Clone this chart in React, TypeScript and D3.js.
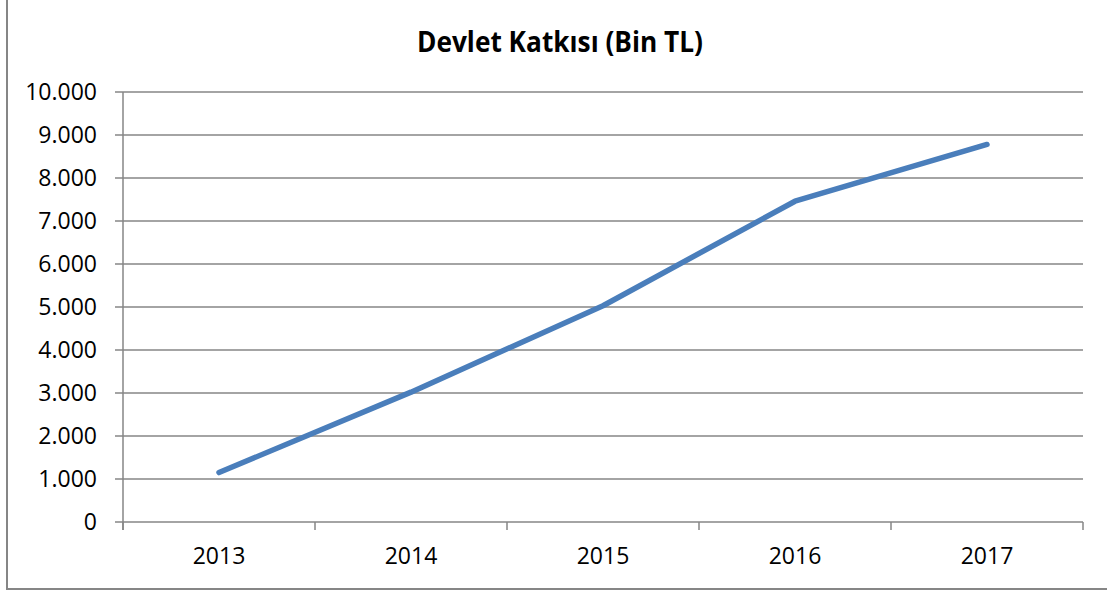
import React, { useEffect, useRef } from "react";
import * as d3 from "d3";

const years = ["2013", "2014", "2015", "2016", "2017"];
const katki = [1150, 3020, 5030, 7460, 8780];
const yTicks = [0, 1000, 2000, 3000, 4000, 5000, 6000, 7000, 8000, 9000, 10000];
const title = "Devlet Katkısı (Bin TL)";

const W = 1107;
const H = 592;

export default function App() {
  const ref = useRef<SVGSVGElement>(null);

  useEffect(() => {
    const svg = d3.select(ref.current);
    svg.selectAll("*").remove();

    var margin = { top: 92, right: 24, bottom: 70, left: 123 };
    var plotRight = W - margin.right;
    var plotBottom = H - margin.bottom;

    const x = d3.scaleBand().domain(years).range([margin.left, plotRight]);
    const y = d3.scaleLinear().domain([0, 10000]).range([plotBottom, margin.top]);
    const fmt = d3.formatLocale({ decimal: ",", thousands: ".", grouping: [3], currency: ["", "TL"] }).format(",d");

    // outer chart frame (only left and bottom show in the shot)
    svg
      .append("rect")
      .attr("x", 7)
      .attr("y", -10)
      .attr("width", W + 20)
      .attr("height", 599)
      .attr("fill", "white")
      .attr("stroke", "#868686")
      .attr("stroke-width", 2);

    svg
      .append("text")
      .attr("x", 560)
      .attr("y", 52)
      .attr("text-anchor", "middle")
      .style("font-family", "'Open Sans', sans-serif")
      .style("font-weight", "bold")
      .style("font-size", "28px")
      .attr("textLength", 286)
      .attr("lengthAdjust", "spacingAndGlyphs")
      .attr("fill", "#000")
      .text(title);

    // gridlines + y ticks
    const g = svg.append("g");
    g.selectAll(".grid")
      .data(yTicks)
      .join("line")
      .attr("class", "grid")
      .attr("x1", margin.left - 8)
      .attr("x2", plotRight)
      .attr("y1", (d) => y(d))
      .attr("y2", (d) => y(d))
      .attr("stroke", "#868686")
      .attr("stroke-width", 1.5);

    g.selectAll(".ylab")
      .data(yTicks)
      .join("text")
      .attr("class", "ylab")
      .attr("x", 97)
      .attr("y", (d) => y(d))
      .attr("dy", "0.36em")
      .attr("text-anchor", "end")
      .style("font-family", "'Open Sans', sans-serif")
      .style("font-size", "23px")
      .attr("fill", "#000")
      .text((d) => fmt(d));

    // y axis line
    g.append("line")
      .attr("x1", margin.left)
      .attr("x2", margin.left)
      .attr("y1", margin.top)
      .attr("y2", plotBottom + 8)
      .attr("stroke", "#868686")
      .attr("stroke-width", 1.5);

    // category boundary ticks
    const bounds = years.map((d) => x(d) as number).concat([plotRight]);
    g.selectAll(".xtick")
      .data(bounds)
      .join("line")
      .attr("class", "xtick")
      .attr("x1", (d) => d)
      .attr("x2", (d) => d)
      .attr("y1", plotBottom)
      .attr("y2", plotBottom + 8)
      .attr("stroke", "#868686")
      .attr("stroke-width", 1.5);

    g.selectAll(".xlab")
      .data(years)
      .join("text")
      .attr("class", "xlab")
      .attr("x", (d) => (x(d) as number) + x.bandwidth() / 2)
      .attr("y", 564)
      .attr("text-anchor", "middle")
      .style("font-family", "'Open Sans', sans-serif")
      .style("font-size", "23px")
      .attr("fill", "#000")
      .text((d) => d);

    const line = d3
      .line<number>()
      .x((d, i) => (x(years[i]) as number) + x.bandwidth() / 2)
      .y((d) => y(d));

    svg
      .append("path")
      .datum(katki)
      .attr("d", line)
      .attr("fill", "none")
      .attr("stroke", "#4a7ebb")
      .attr("stroke-width", 5.5)
      .attr("stroke-linecap", "round")
      .attr("stroke-linejoin", "round");
  }, []);

  return (
    <svg
      ref={ref}
      width={W}
      height={H}
      style={{ position: "absolute", left: 0, top: 0, display: "block", background: "white" }}
    ></svg>
  );
}
